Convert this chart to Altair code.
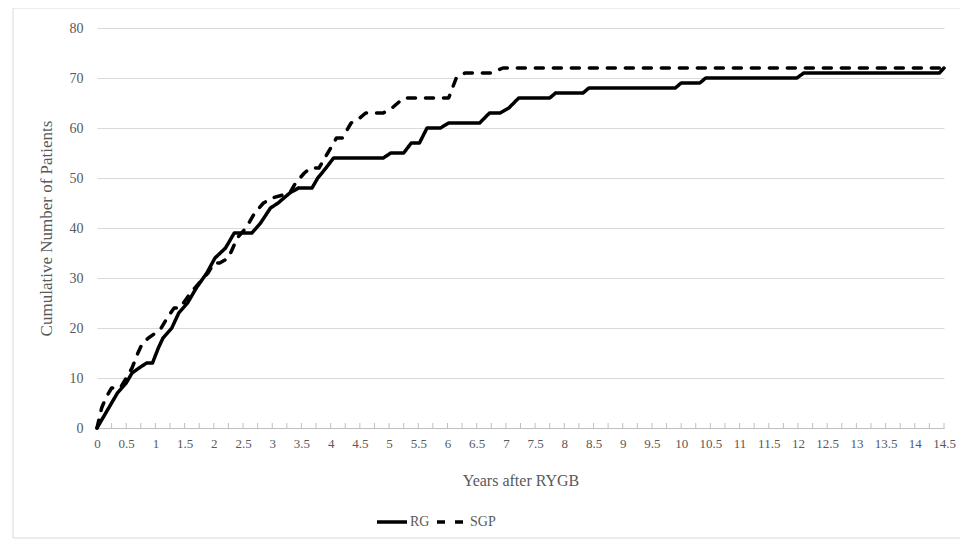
import altair as alt
import pandas as pd

# ---- data ----
RG_t = [0, 0.05, 0.15, 0.25, 0.35, 0.5, 0.6, 0.72, 0.85, 0.95, 1.05, 1.13, 1.28, 1.4, 1.55,
        1.7, 1.88, 2.02, 2.2, 2.35, 2.65, 2.8, 2.97, 3.1, 3.3, 3.45, 3.68, 3.78, 3.92, 4.05,
        4.9, 5.03, 5.25, 5.38, 5.52, 5.65, 5.88, 6.02, 6.55, 6.72, 6.9, 7.05, 7.22, 7.75, 7.85,
        8.32, 8.42, 9.9, 10.0, 10.32, 10.42, 11.98, 12.1, 14.42, 14.5]
RG_v = [0, 1, 3, 5, 7, 9, 11, 12, 13, 13, 16, 18, 20, 23, 25,
        28, 31, 34, 36, 39, 39, 41, 44, 45, 47, 48, 48, 50, 52, 54,
        54, 55, 55, 57, 57, 60, 60, 61, 61, 63, 63, 64, 66, 66, 67,
        67, 68, 68, 69, 69, 70, 70, 71, 71, 72]

SGP_t = [0, 0.08, 0.15, 0.25, 0.4, 0.5, 0.6, 0.7, 0.78, 0.88, 1.0, 1.1, 1.2, 1.32, 1.42,
         1.6, 1.75, 1.9, 2.0, 2.1, 2.25, 2.4, 2.55, 2.7, 2.85, 3.0, 3.3, 3.4, 3.55, 3.65,
         3.8, 3.95, 4.1, 4.2, 4.35, 4.5, 4.6, 4.9, 5.05, 5.25, 6.02, 6.15, 6.3, 6.75, 6.95, 14.5]
SGP_v = [0, 4, 6, 8, 8, 10, 12, 15, 17, 18, 19, 20, 22, 24, 24,
         27, 29, 31, 33, 33, 34, 38, 40, 43, 45, 46, 47, 49, 51, 52,
         52, 55, 58, 58, 61, 62, 63, 63, 64, 66, 66, 70, 71, 71, 72, 72]

x_labels = [i * 0.5 for i in range(30)]      # 0 .. 14.5
x_minor = [i * 0.25 for i in range(59)]      # tick marks
y_ticks = [0, 10, 20, 30, 40, 50, 60, 70, 80]
series = ["RG", "SGP"]

rows = [{"t": t, "v": v, "series": "RG", "i": i} for i, (t, v) in enumerate(zip(RG_t, RG_v))]
rows += [{"t": t, "v": v, "series": "SGP", "i": i} for i, (t, v) in enumerate(zip(SGP_t, SGP_v))]
df = pd.DataFrame(rows)
ticks_df = pd.DataFrame({"t": x_minor})

FONT = "Liberation Serif"
GREY = "#595959"

x_scale = alt.Scale(domain=[0, 14.5], nice=False, zero=False)
y_scale = alt.Scale(domain=[0, 80], nice=False)

x_axis = alt.Axis(values=x_labels, format="~g", title="Years after RYGB",
                  grid=False, ticks=False, domainColor="#bfbfbf",
                  labelPadding=9, titlePadding=22, labelFlush=False,
                  labelOverlap=False)

lines = alt.Chart(df).mark_line(
    color="#000000", strokeWidth=3.5, strokeCap="round", strokeJoin="round", clip=False
).encode(
    x=alt.X("t:Q", scale=x_scale, axis=x_axis),
    y=alt.Y("v:Q", scale=y_scale,
            axis=alt.Axis(values=y_ticks, title="Cumulative Number of Patients",
                          grid=True, gridColor="#d9d9d9", domain=False, ticks=False,
                          labelPadding=14, titlePadding=14)),
    strokeDash=alt.StrokeDash(
        "series:N",
        scale=alt.Scale(domain=series, range=[[1, 0], [8, 10]]),
        legend=alt.Legend(title=None, orient="none", legendX=278, legendY=477,
                          direction="horizontal", symbolType="stroke", symbolSize=900,
                          symbolStrokeWidth=3.5, symbolStrokeColor="#000000",
                          labelFont=FONT, labelFontSize=14, labelColor=GREY,
                          columnPadding=0, labelOffset=1),
    ),
    order="i:Q",
)

minor_ticks = alt.Chart(ticks_df).mark_rule(color="#bfbfbf", strokeWidth=1).encode(
    x=alt.X("t:Q", scale=x_scale, axis=x_axis),
    y=alt.datum(0),
    y2=alt.datum(1),
)

frame = alt.Chart(pd.DataFrame({"a": [0]})).mark_rect(
    fill=None, stroke="#d9d9d9", strokeWidth=1, clip=False
).encode(
    x=alt.value(-84), x2=alt.value(864), y=alt.value(-20), y2=alt.value(510)
)

chart = alt.layer(frame, minor_ticks, lines).properties(
    width=847, height=400,
    autosize=alt.AutoSizeParams(type="none"),
    padding={"left": 89, "top": 20, "right": 16, "bottom": 111},
).configure_view(stroke=None).configure_axis(
    labelFont=FONT, titleFont=FONT, labelFontSize=13, titleFontSize=16,
    labelColor=GREY, titleColor=GREY, titleFontWeight="normal",
).configure_axisY(titleFontSize=17, labelFontSize=14)

chart.save("out.html", embed_options={"renderer": "svg", "actions": False})
